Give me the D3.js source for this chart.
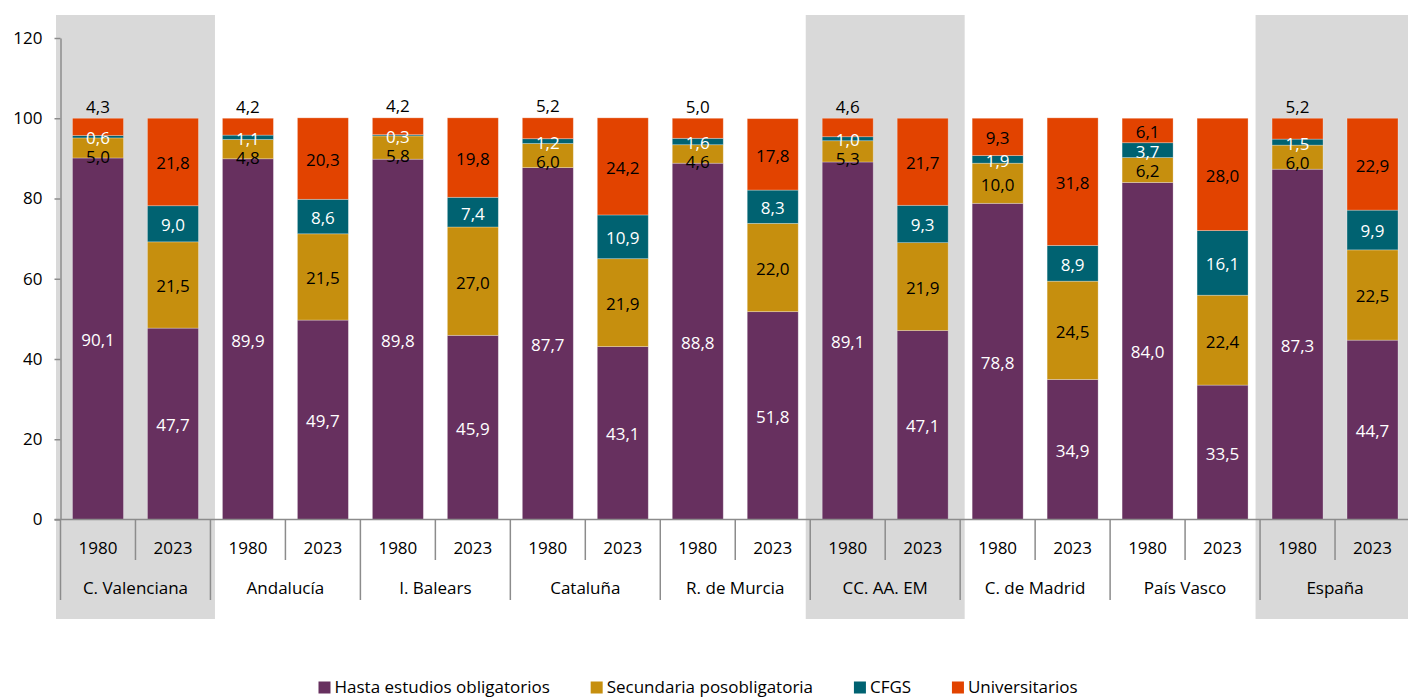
<!DOCTYPE html>
<html>
<head>
<meta charset="utf-8">
<script src="https://cdn.jsdelivr.net/npm/d3@7"></script>
<style>
  body { margin: 0; background: #fff; }
  text { font-family: "Open Sans", "Noto Sans", sans-serif; }
</style>
</head>
<body>
<div id="chart"></div>
<script>
// regions and years
const regions = ["C. Valenciana", "Andalucía", "I. Balears", "Cataluña", "R. de Murcia",
                 "CC. AA. EM", "C. de Madrid", "País Vasco", "España"];
const years = ["1980", "2023"];
const highlighted = ["C. Valenciana", "CC. AA. EM", "España"];

const seriesNames = ["Hasta estudios obligatorios", "Secundaria posobligatoria", "CFGS", "Universitarios"];
const seriesColors = ["#67305f", "#c68f0e", "#006271", "#e24300"];
const labelColors = ["#fff", "#000", "#fff", "#000"];

// values per series, order: region x year (1980, 2023)
const obligatorios = [90.1, 47.7, 89.9, 49.7, 89.8, 45.9, 87.7, 43.1, 88.8, 51.8,
                      89.1, 47.1, 78.8, 34.9, 84.0, 33.5, 87.3, 44.7];
const secundaria   = [5.0, 21.5, 4.8, 21.5, 5.8, 27.0, 6.0, 21.9, 4.6, 22.0,
                      5.3, 21.9, 10.0, 24.5, 6.2, 22.4, 6.0, 22.5];
const cfgs         = [0.6, 9.0, 1.1, 8.6, 0.3, 7.4, 1.2, 10.9, 1.6, 8.3,
                      1.0, 9.3, 1.9, 8.9, 3.7, 16.1, 1.5, 9.9];
const universitarios = [4.3, 21.8, 4.2, 20.3, 4.2, 19.8, 5.2, 24.2, 5.0, 17.8,
                        4.6, 21.7, 9.3, 31.8, 6.1, 28.0, 5.2, 22.9];

const yTicks = [0, 20, 40, 60, 80, 100, 120];

const W = 1408, H = 697;
const plot = {left: 60.5, right: 1410, top: 38, bottom: 519.5};
const axisColor = "#8c8c8c";
const fontSize = "17px";
const fmt = v => d3.format(".1f")(v).replace(".", ",");

const svg = d3.select("#chart").append("svg")
    .attr("width", W)
    .attr("height", H);

// scales
const x0 = d3.scaleBand()
    .domain(regions)
    .range([plot.left, plot.right])
    .padding(0);

const x1 = d3.scaleBand()
    .domain(years)
    .range([0, x0.bandwidth()])
    .paddingInner(0.32)
    .paddingOuter(0.16);

const y = d3.scaleLinear()
    .domain([0, 120])
    .range([plot.bottom, plot.top]);

// grey background for highlighted groups
svg.append("g").selectAll("rect")
    .data(highlighted)
    .join("rect")
    .attr("x", d => x0(d) - 4.5)
    .attr("y", 15)
    .attr("width", x0.bandwidth() + 9)
    .attr("height", 604)
    .attr("fill", "#d9d9d9");

// build bars
const bars = [];
regions.forEach((r, i) => {
    years.forEach((yr, j) => {
        const k = i * 2 + j;
        bars.push({region: r, year: yr,
                   values: [obligatorios[k], secundaria[k], cfgs[k], universitarios[k]]});
    });
});

const stack = d3.stack().keys(d3.range(4)).value((d, key) => d.values[key]);
const stacked = stack(bars);

const barG = svg.append("g");
stacked.forEach((layer, s) => {
    barG.selectAll(null)
        .data(layer)
        .join("rect")
        .attr("x", d => x0(d.data.region) + x1(d.data.year))
        .attr("y", d => y(d[1]))
        .attr("width", x1.bandwidth())
        .attr("height", d => y(d[0]) - y(d[1]))
        .attr("fill", seriesColors[s])
        .attr("stroke", "rgba(255,255,255,0.35)")
        .attr("stroke-width", 0.8);
});

// data labels, placed top-down so they don't sit on top of each other
const labels = [];
bars.forEach((b, bi) => {
    let prevY = -Infinity;
    for (let s = 3; s >= 0; s--) {
        const seg = stacked[s][bi];
        const top = y(seg[1]), bot = y(seg[0]);
        let ly = (top + bot) / 2;
        if (s === 3 && bot - top < 23) ly = top - 13;
        if (ly < prevY + 19) ly = prevY + 19;
        prevY = ly;
        labels.push({x: x0(b.region) + x1(b.year) + x1.bandwidth() / 2, y: ly,
                     text: fmt(b.values[s]), color: labelColors[s]});
    }
});

svg.append("g").selectAll("text")
    .data(labels)
    .join("text")
    .attr("x", d => d.x)
    .attr("y", d => d.y + 1.5)
    .attr("dy", "0.35em")
    .attr("text-anchor", "middle")
    .attr("font-size", fontSize)
    .attr("fill", d => d.color)
    .text(d => d.text);

// y axis
const yAxis = svg.append("g")
    .attr("transform", `translate(${plot.left},0)`)
    .call(d3.axisLeft(y).tickValues(yTicks).tickSize(6).tickSizeOuter(0).tickPadding(12));
yAxis.select(".domain").attr("stroke", axisColor).attr("stroke-width", 1.5);
yAxis.selectAll(".tick line").attr("stroke", axisColor).attr("stroke-width", 1.5);
yAxis.selectAll(".tick text")
    .attr("font-size", fontSize)
    .attr("fill", "#000")
    .attr("font-family", "Open Sans");

// x axis: line, separators and two-level labels
const xAxis = svg.append("g");
xAxis.append("line")
    .attr("x1", plot.left - 6).attr("x2", plot.right)
    .attr("y1", plot.bottom).attr("y2", plot.bottom)
    .attr("stroke", axisColor).attr("stroke-width", 1.5);

xAxis.selectAll(".gsep")
    .data(regions.concat(["__end"]))
    .join("line")
    .attr("x1", (d, i) => plot.left + i * x0.step())
    .attr("x2", (d, i) => plot.left + i * x0.step())
    .attr("y1", plot.bottom).attr("y2", 600)
    .attr("stroke", axisColor).attr("stroke-width", 1.5);

xAxis.selectAll(".ysep")
    .data(regions)
    .join("line")
    .attr("x1", d => x0(d) + x0.bandwidth() / 2)
    .attr("x2", d => x0(d) + x0.bandwidth() / 2)
    .attr("y1", plot.bottom).attr("y2", 560)
    .attr("stroke", axisColor).attr("stroke-width", 1.5);

xAxis.selectAll(".ylab")
    .data(bars)
    .join("text")
    .attr("x", d => x0(d.region) + x1(d.year) + x1.bandwidth() / 2)
    .attr("y", 548)
    .attr("dy", "0.35em")
    .attr("text-anchor", "middle")
    .attr("font-size", fontSize)
    .text(d => d.year);

xAxis.selectAll(".rlab")
    .data(regions)
    .join("text")
    .attr("x", d => x0(d) + x0.bandwidth() / 2)
    .attr("y", 588)
    .attr("dy", "0.35em")
    .attr("text-anchor", "middle")
    .attr("font-size", fontSize)
    .text(d => d);

// legend
const legend = svg.append("g").attr("transform", "translate(0,687)");
const items = legend.selectAll("g")
    .data(seriesNames)
    .join("g");
items.append("rect")
    .attr("y", -5.5)
    .attr("width", 12)
    .attr("height", 12)
    .attr("fill", (d, i) => seriesColors[i]);
items.append("text")
    .attr("x", 16)
    .attr("dy", "0.35em")
    .attr("font-size", fontSize)
    .text(d => d);

let widths = [];
items.each(function() { widths.push(this.getBBox().width); });
const span = 759;
const gap = (span - d3.sum(widths)) / (widths.length - 1);
let cx = 698 - span / 2;
items.attr("transform", (d, i) => {
    const t = `translate(${cx},0)`;
    cx += widths[i] + gap;
    return t;
});
</script>
</body>
</html>
